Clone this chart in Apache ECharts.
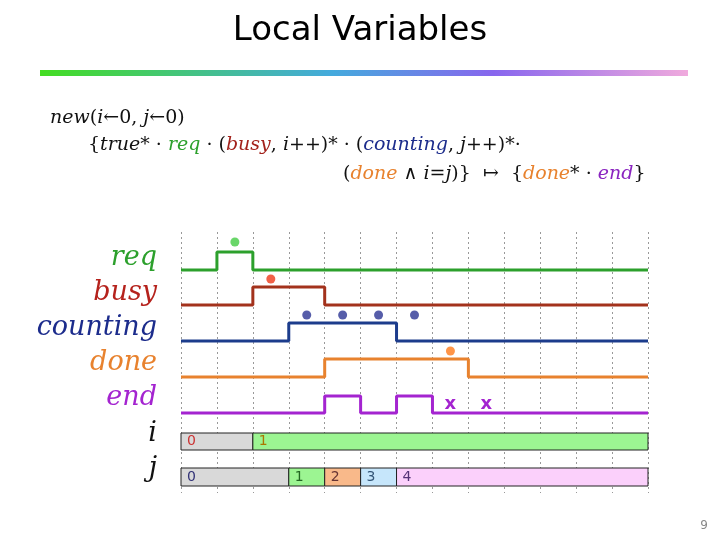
<!DOCTYPE html>
<html><head><meta charset="utf-8">
<script src="https://cdn.jsdelivr.net/npm/echarts@6/dist/echarts.min.js"></script>
<style>html,body{margin:0;background:#fff}#c{width:720px;height:540px}</style>
</head><body><div id="c"></div>
<script>
// waveform rows (pixel-like y units on an inverted axis): [low, high]
var signals = ['req', 'busy', 'counting', 'done', 'end'];
var sigColors = ['#2ca02c', '#a3321c', '#1c3c8c', '#e8822e', '#a424d0'];
var dotColors = ['#44cc44', '#ee3a1a', '#2c3494', '#ff7a1a', '#a424d0'];
var levels = [[270, 252], [305, 287], [341, 323], [377, 359], [413, 396]];
// high intervals per signal (in clock ticks)
var highs = [[[1, 2]], [[2, 4]], [[3, 6]], [[4, 8]], [[4, 5], [6, 7]]];
var dots = [[1.5], [2.5], [3.5, 4.5, 5.5, 6.5], [7.5], []];
var dotY = [242, 279, 315, 351];
var crossX = [7.5, 8.5];
var crossY = 404;
// variable value bars
var iCells = [[0, 2, '0', '#d9d9d9', '#cc3333'], [2, 13, '1', '#9cf592', '#aa7700']];
var jCells = [[0, 3, '0', '#d9d9d9', '#333377'], [3, 4, '1', '#9cf592', '#226622'],
              [4, 5, '2', '#f9b98a', '#663333'], [5, 6, '3', '#c6e6fb', '#335577'],
              [6, 13, '4', '#fbd0fb', '#553377']];
var barY = [[433, 450], [468, 486]];

function wave(k) {
  var lo = levels[k][0], hi = levels[k][1], pts = [[0, lo]];
  highs[k].forEach(function (h) {
    pts.push([h[0], lo], [h[0], hi], [h[1], hi], [h[1], lo]);
  });
  pts.push([13, lo]);
  return pts;
}

var series = [];
signals.forEach(function (s, k) {
  series.push({ type: 'line', data: wave(k), symbol: 'none', silent: true,
    lineStyle: { color: sigColors[k], width: 3 } });
  if (dots[k].length) series.push({ type: 'scatter', symbolSize: 9, silent: true,
    itemStyle: { color: dotColors[k] },
    data: dots[k].map(function (x) { return [x, dotY[k]]; }) });
});
series.push({ type: 'custom', silent: true,
  data: crossX.map(function (x) { return [x, crossY]; }),
  renderItem: function (params, api) {
    var p = api.coord([api.value(0), api.value(1)]);
    return { type: 'text', style: { text: 'x', x: p[0], y: p[1], align: 'center', verticalAlign: 'middle',
      fill: '#a424d0', font: 'bold 18px "DejaVu Sans"' } };
  } });

function cellSeries(cells, yr) {
  return { type: 'custom', silent: true,
    data: cells.map(function (c) { return [c[0], c[1]]; }),
    renderItem: function (params, api) {
      var c = cells[params.dataIndex];
      var p0 = api.coord([c[0], yr[0]]), p1 = api.coord([c[1], yr[1]]);
      return { type: 'group', children: [
        { type: 'rect', shape: { x: p0[0], y: p0[1], width: p1[0] - p0[0], height: p1[1] - p0[1] },
          style: { fill: c[3], stroke: '#222', lineWidth: 1 } },
        { type: 'text', style: { text: c[2], x: p0[0] + 6, y: (p0[1] + p1[1]) / 2, verticalAlign: 'middle',
          fill: c[4], font: '14px DejaVu Sans' } }
      ] };
    } };
}
series.push(cellSeries(iCells, barY[0]), cellSeries(jCells, barY[1]));

var labelNames = ['req', 'busy', 'counting', 'done', 'end', 'i', 'j'];
var labelColors = ['#2ca02c', '#b5221c', '#1c2c8c', '#e8822e', '#a424d0', '#111', '#111'];
var labelY = [260, 295, 330, 365, 400, 436, 471];
var graphics = labelNames.map(function (n, k) {
  return { type: 'text', right: 720 - 157, top: labelY[k] - 16,
    style: { text: n, fill: labelColors[k], font: 'italic 27px "DejaVu Serif"', align: 'right' } };
});

var f = 'italic 19px "DejaVu Serif"';
var fn = '19px "DejaVu Serif"';
var rich = { k: { fill: '#111', font: f }, n: { fill: '#111', font: fn },
  g: { fill: '#2ca02c', font: f }, r: { fill: '#a3221c', font: f }, b: { fill: '#1c2c8c', font: f },
  o: { fill: '#e8822e', font: f }, p: { fill: '#8a24c0', font: f } };
graphics.push(
  { type: 'text', left: 'center', top: 14, style: { text: 'Local Variables', fill: '#000',
    font: '34px "DejaVu Sans"' } },
  { type: 'rect', shape: { x: 40, y: 70, width: 648, height: 6 },
    style: { fill: new echarts.graphic.LinearGradient(0, 0, 1, 0, [
      { offset: 0, color: '#44dd22' }, { offset: 0.45, color: '#44aadd' },
      { offset: 0.7, color: '#8866ee' }, { offset: 1, color: '#f0aadd' }]) } },
  { type: 'text', left: 50, top: 109, style: { rich: rich, font: fn, fill: '#111',
    text: '{k|new}{n|(}{k|i}{n|←0, }{k|j}{n|←0)}' } },
  { type: 'text', left: 88, top: 136, style: { rich: rich, font: fn, fill: '#111',
    text: '{{k|true}{n|* · }{g|req}{n| · (}{r|busy}{n|, }{k|i}{n|++)* · (}{b|counting}{n|, }{k|j}{n|++)*·}' } },
  { type: 'text', left: 343, top: 165, style: { rich: rich, font: fn, fill: '#111',
    text: '{n|(}{o|done}{n| ∧ }{k|i}{n|=}{k|j}{n|)}}  ↦  {{o|done}{n|* · }{p|end}}' } },
  { type: 'text', right: 12, top: 520, style: { text: '9', fill: '#888', font: '12px "DejaVu Sans"' } }
);

var chart = echarts.init(document.getElementById('c'));
chart.setOption({
  animation: false,
  grid: { left: 181, right: 72, top: 232, bottom: 47 },
  xAxis: { type: 'value', min: 0, max: 13, interval: 1,
    axisLine: { show: false }, axisTick: { show: false }, axisLabel: { show: false },
    splitLine: { show: true, lineStyle: { color: '#999', type: [2, 3], width: 1 } } },
  yAxis: { type: 'value', inverse: true, min: 232, max: 493, show: false,
    splitLine: { show: false } },
  graphic: graphics,
  series: series
});
</script>
</body></html>
